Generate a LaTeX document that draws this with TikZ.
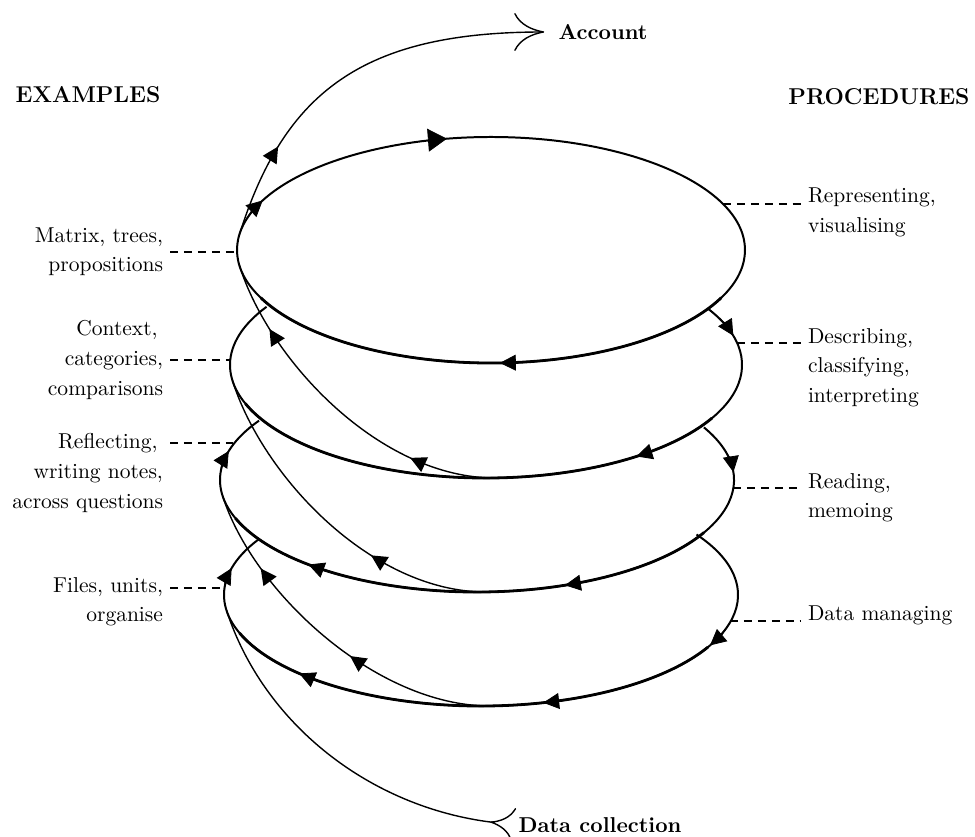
\documentclass[tikz,border=0pt]{standalone}
\usepackage{fontspec}
\usepackage{tikz}
\usetikzlibrary{arrows.meta,decorations.markings}
\newcommand{\elltip}[5][->]{%
  \pgfmathsetmacro{\tipfrom}{#5+15}%
  \draw[#1,tipline] (#2) ++(\tipfrom:#3bp and #4bp)
    arc[start angle=\tipfrom, end angle=#5, x radius=#3bp, y radius=#4bp];}

\begin{document}
\begin{tikzpicture}[>={Triangle[length=8pt,width=8pt]}, scale=.5]
      \tikzstyle{every node}=[font=\fontsize{10.8}{15}\selectfont]
      \tikzstyle{lbl}=[inner sep=0pt,outer sep=3.5bp]
      \tikzstyle{head}=[font=\fontsize{11.5}{14}\selectfont\bfseries]
      \tikzstyle{ends}=[font=\fontsize{10.8}{13}\selectfont\bfseries]
      \tikzstyle{ell}=[line width=1pt]
      \tikzstyle{bot}=[line width=1.4pt]
      \tikzstyle{conn}=[line width=.7pt]
      \tikzstyle{tipline}=[line width=.4pt]
      \tikzstyle{lead}=[line width=.7pt,dash pattern=on 4pt off 3pt]
      \useasboundingbox (0bp,0bp) rectangle (975bp,837bp);

%%
  \coordinate (lv_1) at (491bp,587bp);
  \coordinate (lv_2) at (486bp,472bp);
  \coordinate (lv_3) at (477bp,357bp);
  \coordinate (lv_4) at (481bp,242bp);
  % bottoms of the loops, and where a strand runs into the loop above
  \coordinate (b_2) at (495bp,359bp);
  \coordinate (b_3) at (486bp,245bp);
  \coordinate (b_4) at (490bp,131bp);
  \coordinate (j_1) at (239.5bp,571.3bp);
  \coordinate (j_2) at (232.5bp,456.3bp);
  \coordinate (j_3) at (222.5bp,341.4bp);
  \coordinate (j_4) at (226.5bp,226.6bp);
  \coordinate (out_1) at (239.5bp,602.7bp);
  % leader ends on the loops
  \coordinate (w_1) at (237bp,585bp);
  \coordinate (w_2) at (230bp,477bp);
  \coordinate (w_3) at (233bp,394bp);
  \coordinate (w_4) at (225bp,249bp);
  \coordinate (e_1) at (723bp,633bp);
  \coordinate (e_2) at (737bp,494bp);
  \coordinate (e_3) at (733bp,349bp);
  \coordinate (e_4) at (730bp,216bp);

%%
  \node (h_ex) at (88bp,742bp) [head] {EXAMPLES};
  \node (h_pr) at (879bp,740bp) [head] {PROCEDURES};
  \node (acc) at (603bp,805bp) [ends,inner sep=7bp] {Account};
  \node (dc) at (600bp,12bp) [ends,inner sep=2bp] {Data collection};
  \node (ex_1) at (170bp,585.3bp) [lbl,anchor=east,align=right] {Matrix, trees,\\propositions};
  \node (ex_2) at (170bp,477.3bp) [lbl,anchor=east,align=right] {Context,\hspace*{.25em}\\categories,\\comparisons};
  \node (ex_3) at (170bp,364.3bp) [lbl,anchor=east,align=right] {Reflecting,\hspace*{.25em}\\writing notes,\\across questions};
  \node (ex_4) at (170bp,235.3bp) [lbl,anchor=east,align=right] {Files, units,\\organise};
  \node (pr_1) at (801bp,624.3bp) [lbl,anchor=west,align=left] {Representing,\\visualising};
  \node (pr_2) at (801bp,469.3bp) [lbl,anchor=west,align=left] {Describing,\\classifying,\\interpreting};
  \node (pr_3) at (801bp,339.3bp) [lbl,anchor=west,align=left] {Reading,\\memoing};
  \node (pr_4) at (801bp,221.2bp) [lbl,anchor=west,align=left] {Data managing};

%%
  \draw [ell] (lv_1) ellipse [x radius=254bp, y radius=113bp];
  \draw [bot] (lv_1) ++(-25:254bp and 113bp) arc[start angle=-25, end angle=-155, x radius=254bp, y radius=113bp];
  \draw [ell] (lv_2) ++(30:256bp and 113bp) arc[start angle=30, end angle=-211, x radius=256bp, y radius=113bp];
  \draw [bot] (lv_2) ++(-28:256bp and 113bp) arc[start angle=-28, end angle=-160, x radius=256bp, y radius=113bp];
  \draw [ell] (lv_3) ++(28:257bp and 112bp) arc[start angle=28, end angle=-212, x radius=257bp, y radius=112bp];
  \draw [bot] (lv_3) ++(-28:257bp and 112bp) arc[start angle=-28, end angle=-160, x radius=257bp, y radius=112bp];
  \draw [ell] (lv_4) ++(33:257bp and 111bp) arc[start angle=33, end angle=-210, x radius=257bp, y radius=111bp];
  \draw [bot] (lv_4) ++(-28:257bp and 111bp) arc[start angle=-28, end angle=-160, x radius=257bp, y radius=111bp];

  \elltip[-{Triangle[length=9.5pt,width=11.5pt]}]{lv_1}{254}{113}{100}
  \elltip{lv_1}{254}{113}{-88}
  \elltip{lv_1}{254}{113}{154}
  \elltip{lv_2}{256}{113}{15}
  \elltip{lv_2}{256}{113}{-54}
  \elltip{lv_3}{257}{112}{4}
  \elltip{lv_3}{257}{112}{-70}
  \elltip{lv_3}{257}{112}{-131}
  \elltip{lv_3}{257}{112}{165}
  \elltip{lv_4}{257}{111}{-27}
  \elltip{lv_4}{257}{111}{-76}
  \elltip{lv_4}{257}{111}{-135}
  \elltip{lv_4}{257}{111}{166}

%%
  \draw [conn,postaction={decorate},decoration={markings,mark=at position .25 with {\arrow{>}},mark=at position .8 with {\arrow{>}}}] (b_2) ..controls (380bp,359bp) and (269.5bp,476.3bp)  .. (j_1);
  \draw [conn,postaction={decorate},decoration={markings,mark=at position .35 with {\arrow{>}}}] (b_3) ..controls (371bp,245bp) and (262.5bp,361.3bp)  .. (j_2);
  \draw [conn,postaction={decorate},decoration={markings,mark=at position .42 with {\arrow{>}},mark=at position .77 with {\arrow{>}}}] (b_4) ..controls (375bp,131bp) and (252.5bp,246.4bp)  .. (j_3);
  \draw [conn,{To[reversed,length=12bp,width=17bp]}-] (dc.west) ..controls (370bp,30bp) and (263.7bp,112.6bp)  .. (j_4);
  \draw [conn,-{To[length=15bp,width=19bp]},postaction={decorate},decoration={markings,mark=at position .24 with {\arrow{>}}}] (out_1) ..controls (284.5bp,745.2bp) and (363bp,805bp)  .. (acc.west);

%%
  \draw [lead] (w_1 -| ex_1.east) -- (w_1);
  \draw [lead] (w_2 -| ex_2.east) -- (w_2);
  \draw [lead] (w_3 -| ex_3.east) -- (w_3);
  \draw [lead] (w_4 -| ex_4.east) -- (w_4);
  \draw [lead] (e_1) -- (e_1 -| pr_1.west);
  \draw [lead] (e_2) -- (e_2 -| pr_2.west);
  \draw [lead] (e_3) -- (e_3 -| pr_3.west);
  \draw [lead] (e_4) -- (e_4 -| pr_4.west);
%

    \end{tikzpicture}
\end{document}
